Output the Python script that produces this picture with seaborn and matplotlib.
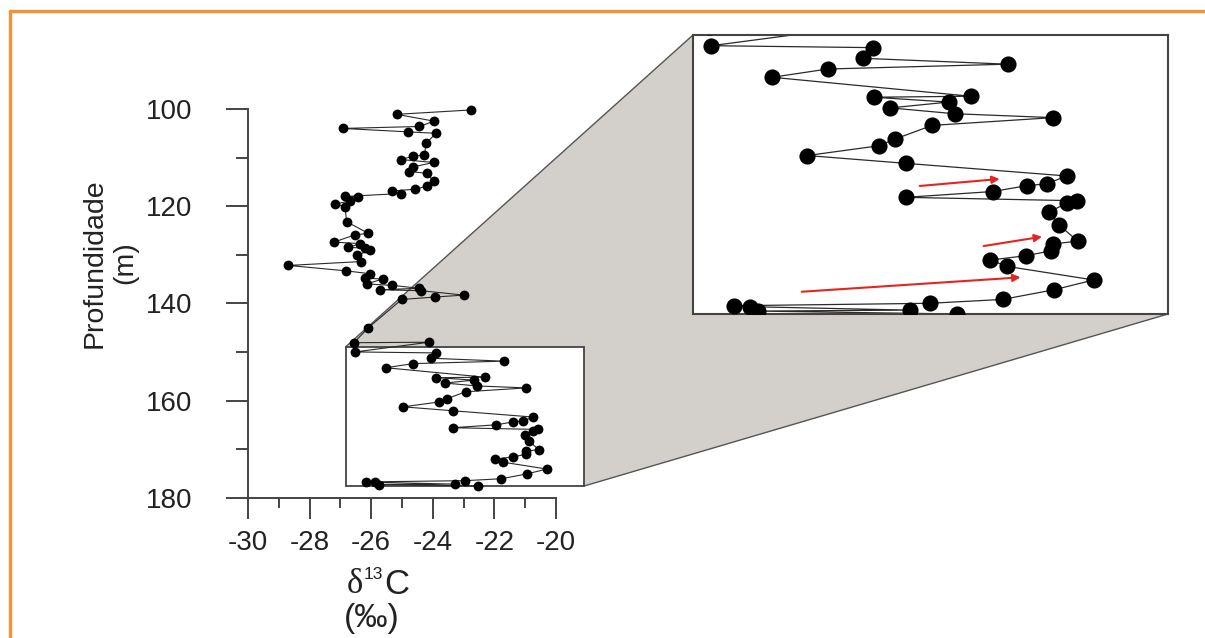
import numpy as np
import pandas as pd
import matplotlib
matplotlib.use("Agg")
import matplotlib.pyplot as plt
import seaborn as sns
from matplotlib.patches import Polygon, Rectangle
from matplotlib.lines import Line2D

# ---- data ----
depth = [100.2, 101.1, 102.5, 103.6, 104.0, 104.7, 105.0, 107.1, 109.5, 109.7,
         110.4, 111.0, 111.9, 112.9, 113.2, 114.9, 115.9, 116.5, 116.9, 117.4,
         118.0, 118.2, 118.9, 119.6, 120.1, 123.2, 125.6, 125.9, 127.4, 127.7,
         128.5, 128.6, 129.1, 130.1, 131.4, 132.2, 133.3, 133.9, 134.8, 135.0,
         136.0, 136.3, 136.9, 137.2, 137.4, 138.3, 138.7, 139.2, 145.0,
         148.1, 148.0, 150.0, 150.2, 151.3, 151.9, 152.4, 153.25, 155.2, 155.3,
         155.8, 156.4, 157.0, 157.4, 158.2, 159.6, 160.3, 161.3, 162.1, 163.4,
         164.2, 164.4, 165.0, 165.6, 165.95, 166.2, 167.1, 168.4, 170.1, 170.4,
         171.1, 171.6, 172.05, 172.7, 174.1, 175.1, 176.1, 176.5, 176.75, 176.85,
         177.2, 177.3, 177.6]
d13c = [-22.77, -25.17, -23.96, -24.44, -26.93, -24.82, -23.90, -24.22, -24.27, -24.63,
        -25.04, -23.97, -24.63, -24.76, -24.20, -23.96, -24.20, -24.58, -25.34, -25.04,
        -26.85, -26.42, -26.69, -27.18, -26.85, -26.80, -26.09, -26.53, -27.21, -26.36,
        -26.74, -26.20, -26.04, -26.47, -26.33, -28.69, -26.83, -26.04, -26.20, -25.63,
        -26.15, -25.32, -24.44, -25.71, -24.37, -22.99, -23.93, -25.01, -26.09,
        -26.56, -24.12, -26.52, -23.89, -24.05, -21.70, -24.63, -25.53, -22.30, -23.88,
        -22.66, -23.61, -22.56, -20.96, -22.93, -23.53, -23.80, -24.96, -23.36, -20.74,
        -21.06, -21.39, -21.94, -23.36, -20.57, -20.74, -21.02, -20.87, -20.56, -20.96,
        -20.99, -21.40, -21.98, -21.71, -20.30, -20.94, -21.78, -22.97, -26.16, -25.89,
        -23.29, -25.76, -22.53]

x_ticks = [-30, -28, -26, -24, -22, -20]
x_minor = [-29, -27, -25, -23, -21]
y_ticks = [100, 120, 140, 160, 180]
y_minor = [110, 130, 150, 170]

zoom_x = [-26.82, -19.09]
zoom_y = [148.9, 177.6]

arrow_start_x = [-23.13, -22.09, -25.05]
arrow_start_y = [164.43, 170.61, 175.31]
arrow_end_x = [-21.83, -21.14, -21.49]
arrow_end_y = [163.71, 169.65, 173.83]

# ---- style ----
sns.set_style("ticks")
plt.rcParams['font.family'] = ['Liberation Sans', 'DejaVu Sans']

df = pd.DataFrame({'d13C': d13c, 'depth': depth})

W, H = 1205, 638
fig = plt.figure(figsize=(W / 100, H / 100), dpi=100)
fig.patch.set_facecolor('white')

# main axes
ax = fig.add_axes([248 / W, 1 - 497.7 / H, 308 / W, 388.7 / H])
ax.set_facecolor('none')
sns.lineplot(data=df, x='d13C', y='depth', sort=False, estimator=None,
             color='#2a2a2a', lw=0.8, ax=ax, zorder=2, clip_on=False)
sns.scatterplot(data=df, x='d13C', y='depth', color='black', s=50,
                linewidth=0, ax=ax, zorder=3, clip_on=False)
ax.set_xlim(-30, -20)
ax.set_ylim(180, 100)
ax.set_xlabel('')
ax.set_ylabel('')
for s in ['top', 'right']:
    ax.spines[s].set_visible(False)
for s in ['left', 'bottom']:
    ax.spines[s].set_color('#444444')
    ax.spines[s].set_linewidth(1.4)
ax.spines['left'].set_bounds(100, 180)
ax.spines['bottom'].set_bounds(-30, -20)
ax.set_xticks(x_ticks)
ax.set_xticklabels([str(v) for v in x_ticks])
ax.set_xticks(x_minor, minor=True)
ax.set_yticks(y_ticks)
ax.set_yticklabels([str(v) for v in y_ticks])
ax.set_yticks(y_minor, minor=True)
ax.tick_params(axis='x', which='major', length=15, width=1.4, color='#444444',
               labelsize=20, pad=8, labelcolor='#222222', direction='out')
ax.tick_params(axis='x', which='minor', length=7.5, width=1.4, color='#444444', direction='out')
ax.tick_params(axis='y', which='major', length=16, width=1.4, color='#444444',
               labelsize=20, pad=24, labelcolor='#222222', direction='out')
ax.tick_params(axis='y', which='minor', length=8.5, width=1.4, color='#444444', direction='out')

# zoom rectangle on main axes
rect = Rectangle((zoom_x[0], zoom_y[0]), zoom_x[1] - zoom_x[0], zoom_y[1] - zoom_y[0],
                 facecolor='white', edgecolor='#444444', lw=1.3, zorder=1.5, clip_on=False)
ax.add_patch(rect)

# inset axes
ax_in = fig.add_axes([693 / W, 1 - 314 / H, 475 / W, 279 / H])
ax_in.set_facecolor('white')
sns.lineplot(data=df, x='d13C', y='depth', sort=False, estimator=None,
             color='#2a2a2a', lw=0.9, ax=ax_in, zorder=2)
sns.scatterplot(data=df, x='d13C', y='depth', color='black', s=135,
                linewidth=0, ax=ax_in, zorder=3)
ax_in.set_xlim(zoom_x[0], zoom_x[1])
ax_in.set_ylim(zoom_y[1], zoom_y[0])
ax_in.set_xticks([])
ax_in.set_yticks([])
ax_in.set_xlabel('')
ax_in.set_ylabel('')
for s in ax_in.spines.values():
    s.set_visible(True)
    s.set_color('#444444')
    s.set_linewidth(1.5)

for sx, sy, ex, ey in zip(arrow_start_x, arrow_start_y, arrow_end_x, arrow_end_y):
    ax_in.annotate('', xy=(ex, ey), xytext=(sx, sy),
                   arrowprops=dict(arrowstyle='-|>', color='#e52420', lw=1.5,
                                   mutation_scale=11, shrinkA=0, shrinkB=0),
                   zorder=4)

# gray connecting polygon
inv = fig.transFigure.inverted()
p1 = inv.transform(ax.transData.transform((zoom_x[0], zoom_y[0])))
p2 = inv.transform(ax_in.transAxes.transform((0, 1)))
p3 = inv.transform(ax_in.transAxes.transform((1, 0)))
p4 = inv.transform(ax.transData.transform((zoom_x[1], zoom_y[1])))
poly = Polygon([p1, p2, p3, p4], closed=True, transform=fig.transFigure,
               facecolor='#d3cfca', edgecolor='#555555', lw=1.0, zorder=-1)
fig.add_artist(poly)

# axis labels
fig.text(110 / W, 1 - 263 / H, 'Profundidade\n(m)', rotation=90, ha='center',
         va='center', multialignment='center', fontsize=20.5, color='#222222',
         linespacing=1.2)

t_delta = fig.text(347 / W, 1 - 593 / H, 'δ', ha='left', va='baseline',
                   fontsize=25, family=['Liberation Serif', 'DejaVu Serif'], color='#222222')
t_13 = fig.text(0, 0, '13', fontsize=12, color='#222222')
t_13.set_position((0, 0))
t_13.remove()
t_13 = ax.annotate('13', xy=(1.0, 1.0), xycoords=t_delta, xytext=(0.5, 1), textcoords='offset points',
                   ha='left', va='top', fontsize=12.5, color='#222222', annotation_clip=False)
ax.annotate('C', xy=(1.0, 0.0), xycoords=(t_13, t_delta), xytext=(0.5, 0),
            textcoords='offset points', ha='left', va='bottom', fontsize=25,
            color='#222222', annotation_clip=False)
fig.text(372 / W, 1 - 619 / H, '(‰)', ha='center', va='center', fontsize=24,
         color='#222222')

# orange frame
fig.add_artist(Line2D([10 / W, 1.0], [1 - 11 / H, 1 - 11 / H], transform=fig.transFigure,
                      color='#f39233', lw=2.4, zorder=10))
fig.add_artist(Line2D([10 / W, 10 / W], [1 - 11 / H, 0.0], transform=fig.transFigure,
                      color='#f39233', lw=2.4, zorder=10))

fig.savefig('out.png', dpi=100)
